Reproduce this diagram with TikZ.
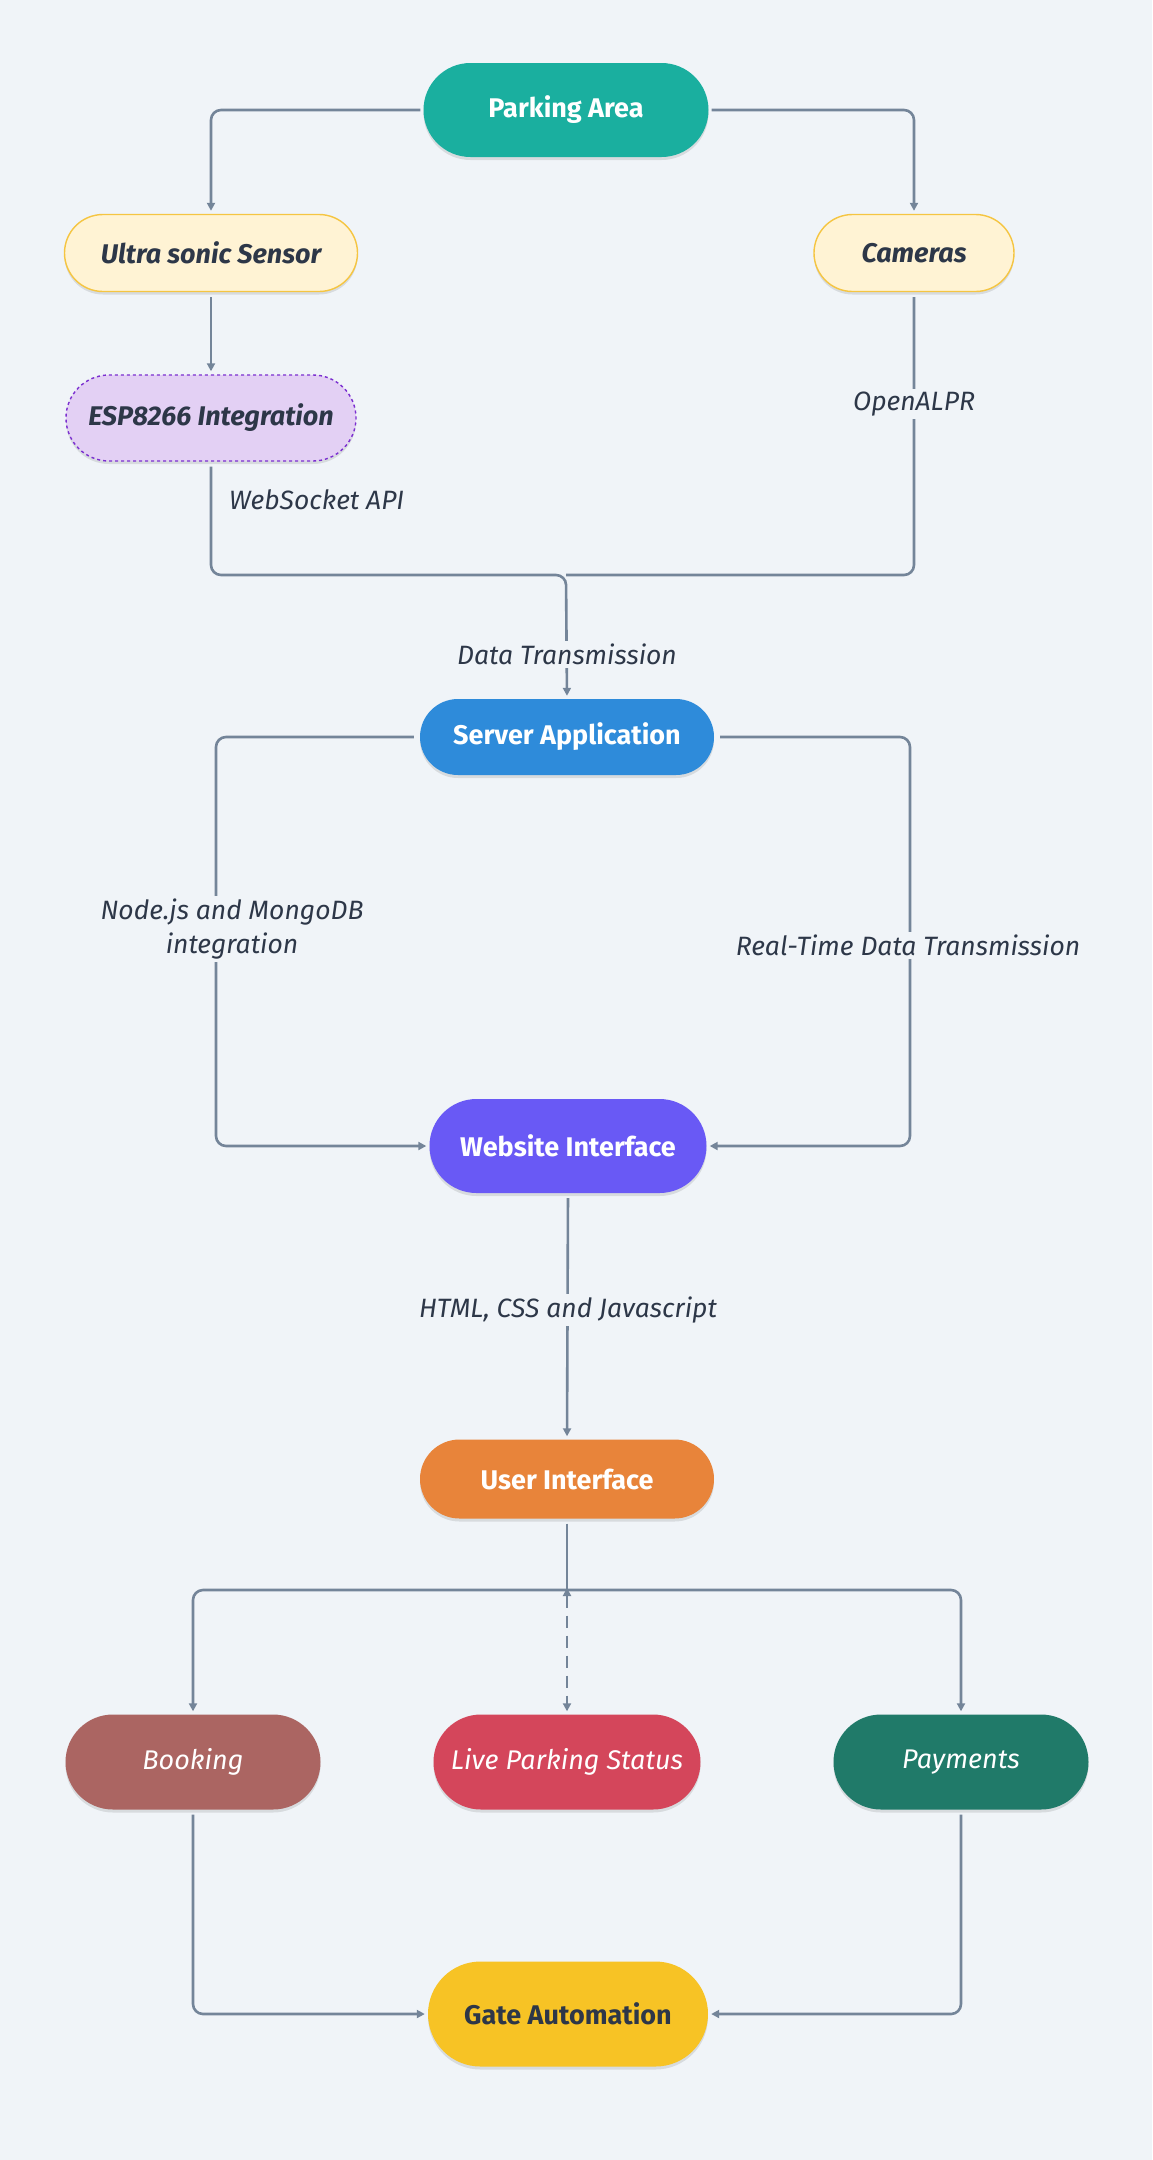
\documentclass[tikz,border=0pt]{standalone}
\usepackage{fontspec}
\setmainfont{Fira Sans}
\usetikzlibrary{arrows.meta,shadows,shapes.misc}
\definecolor{bg}{HTML}{F0F4F8}
\definecolor{lc}{HTML}{748599}
\definecolor{txt}{HTML}{2D3748}
\definecolor{cpa}{HTML}{1AAF9F}
\definecolor{cyel}{HTML}{FFF3D4}
\definecolor{cyelb}{HTML}{F5C542}
\definecolor{cesp}{HTML}{E3D0F4}
\definecolor{cespb}{HTML}{7B2FD0}
\definecolor{csrv}{HTML}{2E8BDA}
\definecolor{cweb}{HTML}{6959F5}
\definecolor{cui}{HTML}{E8843A}
\definecolor{cbook}{HTML}{AB6562}
\definecolor{clive}{HTML}{D4465B}
\definecolor{cpay}{HTML}{207A69}
\definecolor{cgate}{HTML}{F7C325}
\begin{document}
\begin{tikzpicture}[x=1pt,y=-1pt,
  nbox/.style={rounded rectangle, inner sep=0pt, align=center,
    font=\fontsize{27}{32}\selectfont\bfseries,
    drop shadow={shadow xshift=0pt, shadow yshift=-3pt, opacity=0.10, fill=black}},
  ybox/.style={nbox, fill=cyel, draw=cyelb, line width=1.4pt, text=txt,
    font=\fontsize{27}{32}\selectfont\bfseries\itshape, drop shadow={opacity=0}},
  ibox/.style={nbox, text=white, font=\fontsize{27}{32}\selectfont\itshape},
  lbl/.style={font=\fontsize{26.5}{34}\selectfont\itshape, text=txt, fill=bg, inner sep=3pt, align=center},
  conn/.style={draw=lc, line width=2.6pt, rounded corners=10pt},
  arr/.style={conn, -{Triangle[length=8pt,width=8pt]}, shorten >=3pt},
]
\useasboundingbox (0,0) rectangle (1152,2160);
\fill[bg] (0,0) rectangle (1152,2160);

% nodes
\node[nbox, fill=cpa, text=white, minimum width=285pt, minimum height=94pt] (pa) at (566,110) {Parking Area};
\node[ybox, minimum width=293pt, minimum height=77pt] (us) at (211,253) {Ultra sonic Sensor};
\node[ybox, minimum width=200pt, minimum height=77pt] (cam) at (914,253) {Cameras};
\node[ybox, fill=cesp, draw=cespb, dashed, minimum width=290pt, minimum height=86pt] (esp) at (211,418) {ESP8266 Integration};
\node[nbox, fill=csrv, text=white, minimum width=294pt, minimum height=76pt] (srv) at (567,737) {Server Application};
\node[nbox, fill=cweb, text=white, minimum width=277pt, minimum height=94pt] (web) at (568,1146) {Website Interface};
\node[nbox, fill=cui, text=white, minimum width=294pt, minimum height=79pt] (ui) at (567,1479) {User Interface};
\node[ibox, fill=cbook, minimum width=255pt, minimum height=95pt] (book) at (193,1762) {Booking};
\node[ibox, fill=clive, minimum width=267pt, minimum height=95pt] (live) at (567,1762) {Live Parking Status};
\node[ibox, fill=cpay, minimum width=255pt, minimum height=95pt] (pay) at (961,1762) {Payments};
\node[nbox, fill=cgate, text=txt, minimum width=280pt, minimum height=105pt] (gate) at (568,2014) {Gate Automation};

% helper coordinates
\coordinate (j) at (566,575);
\coordinate (sl) at (216,900);
\coordinate (sr) at (910,900);
\coordinate (jj) at (567,1590);

% connectors
\draw[arr, shorten <=3pt] (pa.west) -| (us.north);
\draw[arr, shorten <=3pt] (pa.east) -| (cam.north);
\draw[arr, shorten <=5pt] (us.south) -- (esp.north);
\draw[conn, shorten <=5pt] (cam.south) |- (j);
\draw[arr, shorten <=5pt] (esp.south) |- (j) -- (srv.north);
\draw[arr, shorten <=6pt] (srv.west) -| (sl) |- (web.west);
\draw[arr, shorten <=6pt] (srv.east) -| (sr) |- (web.east);
\draw[arr, shorten <=5pt] (web.south) -- (ui.north);
\draw[conn, shorten <=5pt] (ui.south) -- (jj);
\draw[arr] (jj) -| (book.north);
\draw[arr] (jj) -| (pay.north);
\draw[conn, dashed, dash pattern=on 12pt off 8pt, {Triangle[length=8pt,width=8pt]}-{Triangle[length=8pt,width=8pt]}, shorten >=3pt, shorten <=-2pt] (jj) -- (live.north);
\draw[arr, shorten <=5pt] (book.south) |- (gate.west);
\draw[arr, shorten <=5pt] (pay.south) |- (gate.east);

% labels
\node[lbl, fill=none, anchor=west] (lws) at (226,500) {WebSocket API};
\node[lbl] (lalpr) at (914,404) {OpenALPR};
\node[lbl] (ldt) at (567,654) {Data Transmission};
\node[lbl] (lnode) at (232,929) {Node.js and MongoDB\\integration};
\node[lbl] (lrt) at (908,945) {Real-Time Data Transmission};
\node[lbl] (lhtml) at (568,1310) {HTML, CSS and Javascript};
\end{tikzpicture}
\end{document}
